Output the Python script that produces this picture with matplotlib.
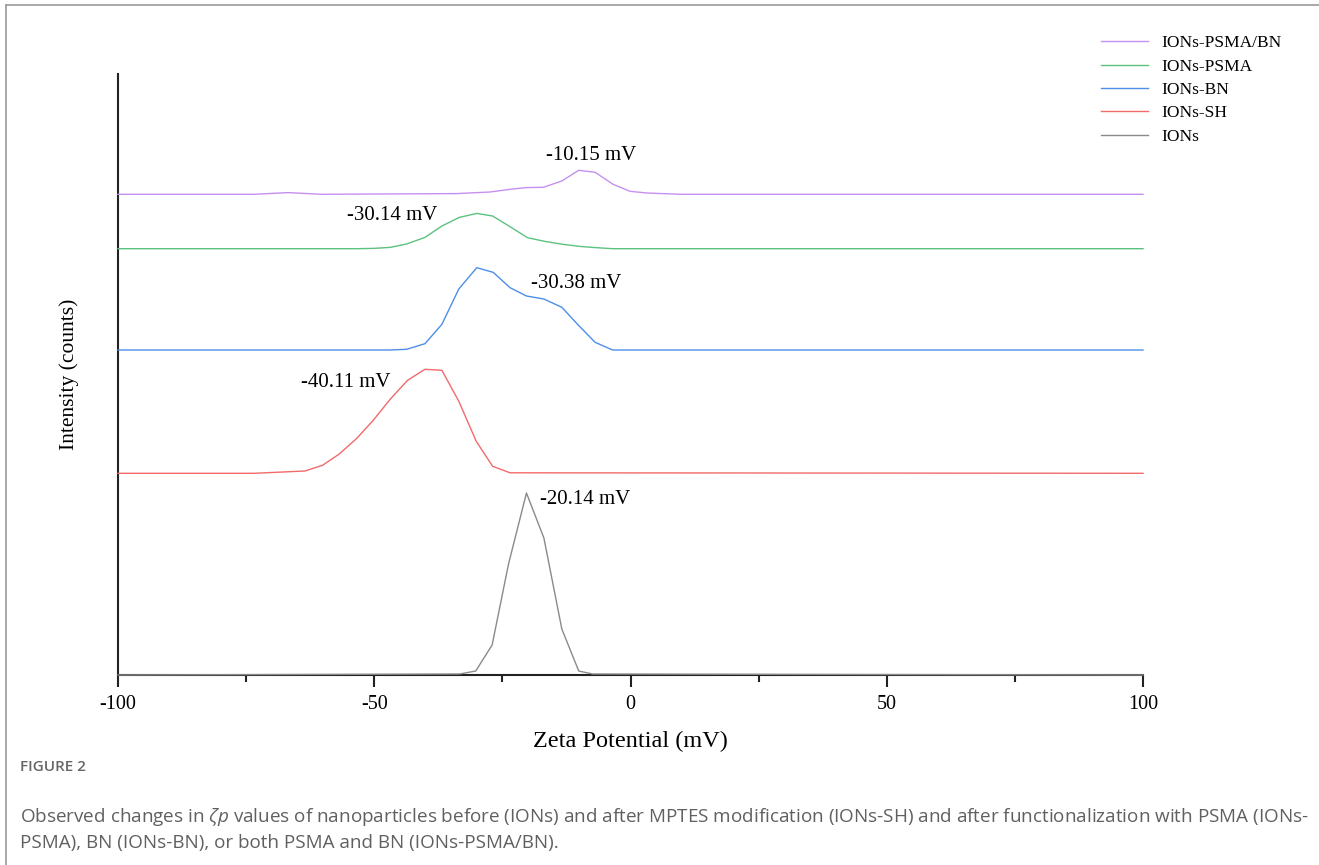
import numpy as np
import matplotlib
matplotlib.use("Agg")
import matplotlib.pyplot as plt
from matplotlib.lines import Line2D

# 字体设置
plt.rcParams['font.family'] = ['Liberation Serif', 'DejaVu Serif']
plt.rcParams['mathtext.fontset'] = 'custom'
plt.rcParams['mathtext.rm'] = 'Open Sans'
plt.rcParams['mathtext.it'] = 'Open Sans:italic'

# data: zeta potential (mV) and intensity above each curve's own baseline
ions_x = [-100, -33.3, -30.2, -27.0, -23.8, -20.3, -16.9, -13.4, -10.1, -7.4, 100]
ions_y = [0, 1, 4, 30, 111, 182, 137, 46, 4, 1, 0]

sh_x = [-100, -73.5, -63.5, -60.1, -56.9, -53.4, -50.2, -46.9, -43.5, -40.1,
        -36.8, -33.5, -30.1, -26.9, -23.5, 100]
sh_y = [0, 0, 2.3, 8, 19, 35, 53, 74, 93, 104, 103, 72, 32, 7, 0.5, 0]

bn_x = [-100, -47.0, -43.7, -40.1, -36.8, -33.5, -30.0, -26.8, -23.5, -20.3,
        -16.9, -13.4, -10.2, -6.9, -3.5, 100]
bn_y = [0, 0, 0.7, 6.3, 25.7, 61, 82.3, 77.7, 62.3, 54, 51, 42.7, 25, 7.7, 0, 0]

psma_x = [-100, -53.5, -50.2, -46.9, -43.7, -40.1, -36.8, -33.4, -30.0, -26.9,
          -23.5, -20.1, -16.7, -13.1, -9.9, -6.6, -3.4, 100]
psma_y = [0, 0, 0.3, 1.3, 4.7, 11.3, 22.7, 31.3, 35.3, 32.7, 22, 11, 7.3, 4.3,
          2.3, 1, 0, 0]

psmabn_x = [-100, -73.5, -66.8, -60.3, -33.9, -27.4, -23.5, -20.3, -17.0, -13.4,
            -10.1, -6.9, -3.4, -0.1, 3.2, 9.7, 100]
psmabn_y = [0, 0, 1.7, 0, 0.7, 2.3, 5, 6.7, 7, 13.3, 24, 22, 10, 3, 1.3, 0, 0]

names = ['IONs', 'IONs-SH', 'IONs-BN', 'IONs-PSMA', 'IONs-PSMA/BN']
offsets = [0, 201.7, 325, 426.3, 480.7]
colors = ['#8a8a8a', '#f26a6a', '#4d8fe8', '#5cc27f', '#c690f2']

peak_labels = ['-20.14 mV', '-40.11 mV', '-30.38 mV', '-30.14 mV', '-10.15 mV']
label_pos = [(-8.9, 176), (-55.5, 292.3), (-10.6, 392), (-46.5, 459.3), (-7.7, 520)]

xs = [ions_x, sh_x, bn_x, psma_x, psmabn_x]
ys = [ions_y, sh_y, bn_y, psma_y, psmabn_y]

fig = plt.figure(figsize=(13.19, 8.65), dpi=100)
ax = fig.add_axes([118 / 1319, 1 - 675 / 865, (1143 - 118) / 1319, (675 - 74) / 865])

handles = []
for x, y, off, c, n in zip(xs, ys, offsets, colors, names):
    ln, = ax.plot(x, np.array(y) + off, color=c, lw=1.0, label=n, clip_on=False, zorder=3)
    handles.append(ln)

for (tx, ty), t in zip(label_pos, peak_labels):
    ax.text(tx, ty, t, ha='center', va='center', fontsize=15)

ax.set_xlim(-100, 100)
ax.set_ylim(0, 601)
ax.set_xticks([-100, -50, 0, 50, 100])
ax.set_xticklabels(['-100', '-50', '0', '50', '100'])
ax.set_xticks([-75, -25, 25, 75], minor=True)
ax.set_yticks([])
for s in ['top', 'right']:
    ax.spines[s].set_visible(False)
for s in ['left', 'bottom']:
    ax.spines[s].set_linewidth(1.5)
    ax.spines[s].set_color('#222222')
ax.tick_params(axis='x', which='major', direction='out', length=8.5, width=1.5,
               labelsize=14.5, pad=6, color='#222222')
ax.tick_params(axis='x', which='minor', direction='out', length=4.7, width=1.5,
               color='#222222')
ax.set_xlabel('Zeta Potential (mV)', fontsize=17.5, labelpad=12)
ax.set_ylabel('Intensity (counts)', fontsize=15.5, labelpad=28)

fig.legend(handles[::-1], names[::-1], loc='upper left',
           bbox_to_anchor=(1101 / 1319, 1 - 35 / 865), frameon=False,
           fontsize=12.5, handlelength=2.7, handletextpad=0.8,
           labelspacing=0.42, borderpad=0, borderaxespad=0)

# 外框线
fig.add_artist(Line2D([6 / 1319, 1], [1 - 5 / 865, 1 - 5 / 865], color='#9a9a9a', lw=1.2))
fig.add_artist(Line2D([6 / 1319, 6 / 1319], [0, 1 - 5 / 865], color='#9a9a9a', lw=1.2))

# caption
fig.text(20 / 1319, 1 - 767 / 865, 'FIGURE 2', family='Open Sans', fontsize=11,
         weight='semibold', color='#666666', va='center')
fig.text(20 / 1319, 1 - 817 / 865,
         'Observed changes in $ζp$ values of nanoparticles before (IONs) and after MPTES '
         'modification (IONs-SH) and after functionalization with PSMA (IONs-',
         family='Open Sans', fontsize=13.6, color='#606060', va='center')
fig.text(20 / 1319, 1 - 843 / 865,
         'PSMA), BN (IONs-BN), or both PSMA and BN (IONs-PSMA/BN).',
         family='Open Sans', fontsize=13.6, color='#606060', va='center')

fig.savefig('out.png', dpi=100)
